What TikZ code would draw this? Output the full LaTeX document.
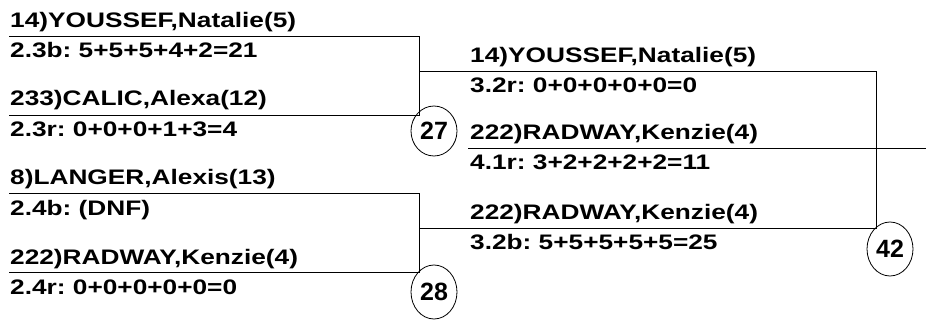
\documentclass[tikz,border=0pt]{standalone}
\usepackage{fontspec}
\newfontfamily\bracketfont{Liberation Sans Bold}[FakeStretch=1.25]
\newfontfamily\matchfont{Liberation Sans Bold}
\usetikzlibrary{shapes.geometric}
\usetikzlibrary{positioning,calc}

\begin{document}
\frenchspacing
\begin{tikzpicture}[x=1pt,y=-1pt,
         entry/.style = {anchor=base west, inner sep=0pt, font=\fontsize{21}{24}\bracketfont},
         matchno/.style = {draw, ellipse, line width=0.8pt, inner sep=0pt,
         minimum width=46pt, minimum height=50pt, font=\fontsize{25}{28}\matchfont},
         bline/.style = {line width=0.8pt}
]
         \useasboundingbox (0,0) rectangle (926,323);

         % first round, top match
         \node[entry] (p1) at (10,28)  {14)YOUSSEF,Natalie(5)};
         \node[entry] (s1) at (10,58)  {2.3b: 5+5+5+4+2=21};
         \node[entry] (p2) at (10,106) {233)CALIC,Alexa(12)};
         \node[entry] (s2) at (10,137) {2.3r: 0+0+0+1+3=4};

         % first round, bottom match
         \node[entry] (p3) at (10,185) {8)LANGER,Alexis(13)};
         \node[entry] (s3) at (10,215) {2.4b: (DNF)};
         \node[entry] (p4) at (10,264) {222)RADWAY,Kenzie(4)};
         \node[entry] (s4) at (10,294) {2.4r: 0+0+0+0+0=0};

         % second round
         \node[entry] (q1) at (470,63)  {14)YOUSSEF,Natalie(5)};
         \node[entry] (r1) at (470,93)  {3.2r: 0+0+0+0+0=0};
         \node[entry] (q2) at (470,140) {222)RADWAY,Kenzie(4)};
         \node[entry] (r2) at (470,170) {4.1r: 3+2+2+2+2=11};
         \node[entry] (q3) at (470,219) {222)RADWAY,Kenzie(4)};
         \node[entry] (r3) at (470,249) {3.2b: 5+5+5+5+5=25};

         % line ends
         \coordinate (a1) at (9,36);   \coordinate (b1) at (419,36);
         \coordinate (a2) at (9,115);  \coordinate (b2) at (419,115);
         \coordinate (a3) at (9,193);  \coordinate (b3) at (419,193);
         \coordinate (a4) at (9,272);  \coordinate (b4) at (419,272);
         \coordinate (c1) at (419,71); \coordinate (d1) at (876,71);
         \coordinate (c2) at (468,148);\coordinate (d2) at (926,148);
         \coordinate (c3) at (419,228);\coordinate (d3) at (876,228);

         \draw[bline] (a1) -- (b1) -- (b2) -- (a2);
         \draw[bline] (a3) -- (b3) -- (b4) -- (a4);
         \draw[bline] (c1) -- (d1) -- (d3) -- (c3);
         \draw[bline] (c2) -- (d2);

         % match numbers
         \node[matchno] (m27) at (434,131) {27};
         \node[matchno, minimum height=54pt] (m28) at (434,292) {28};
         \node[matchno, minimum height=54pt] (m42) at (890,249) {42};
\end{tikzpicture}
\end{document}
